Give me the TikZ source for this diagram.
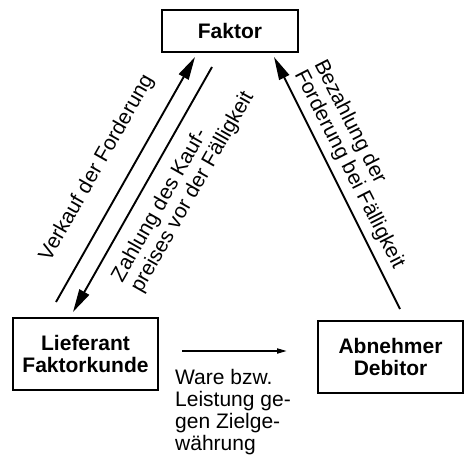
\documentclass[tikz,border=0pt]{standalone}
\usepackage{fontspec}
\setmainfont{Liberation Sans}
\usetikzlibrary{arrows.meta}
\begin{document}
\begin{tikzpicture}[x=1pt,y=-1pt,
  every node/.style={font=\fontsize{21}{22}\selectfont, inner sep=0pt},
  box/.style={draw, line width=1.7pt, align=center, font=\fontsize{21}{22}\selectfont\bfseries},
  big/.style={line width=1.9pt, -{Triangle[length=23pt,width=11pt]}},
  small/.style={line width=1.8pt, -{Triangle[length=10pt,width=5pt]}},
  lbl/.style={align=left}]
\useasboundingbox (0,0) rectangle (471,457);
\node[box, minimum width=136pt, minimum height=42pt] (faktor) at (230,31) {Faktor};
\node[box, minimum width=145pt, minimum height=72pt] (lief) at (85.5,354) {Lieferant\\Faktorkunde};
\node[box, minimum width=145pt, minimum height=72pt] (abn) at (390.5,357) {Abnehmer\\Debitor};
\coordinate (a1s) at (56,302);
\coordinate (a1e) at (195,57);
\coordinate (a2s) at (212,67);
\coordinate (a2e) at (73,312);
\coordinate (a3s) at (400,309);
\coordinate (a3e) at (274,57);
\coordinate (a4s) at (182,351);
\coordinate (a4e) at (287,351);
\draw[big] (a1s) -- (a1e);
\draw[big] (a2s) -- (a2e);
\draw[big] (a3s) -- (a3e);
\draw[small] (a4s) -- (a4e);
\node[rotate=60.4] (l1) at (97,168) {Verkauf der Forderung};
\node[lbl, rotate=60.4, anchor=west] (l2) at (127,286) {Zahlung des Kauf-\\preises vor der Fälligkeit};
\node[lbl, rotate=-63, anchor=west] (l3) at (309,66.5) {Bezahlung der\\Forderung bei Fälligkeit};
\node[lbl, anchor=west] (l4) at (175,411.6) {Ware bzw.\\Leistung ge-\\gen Zielge-\\währung};
\end{tikzpicture}
\end{document}
